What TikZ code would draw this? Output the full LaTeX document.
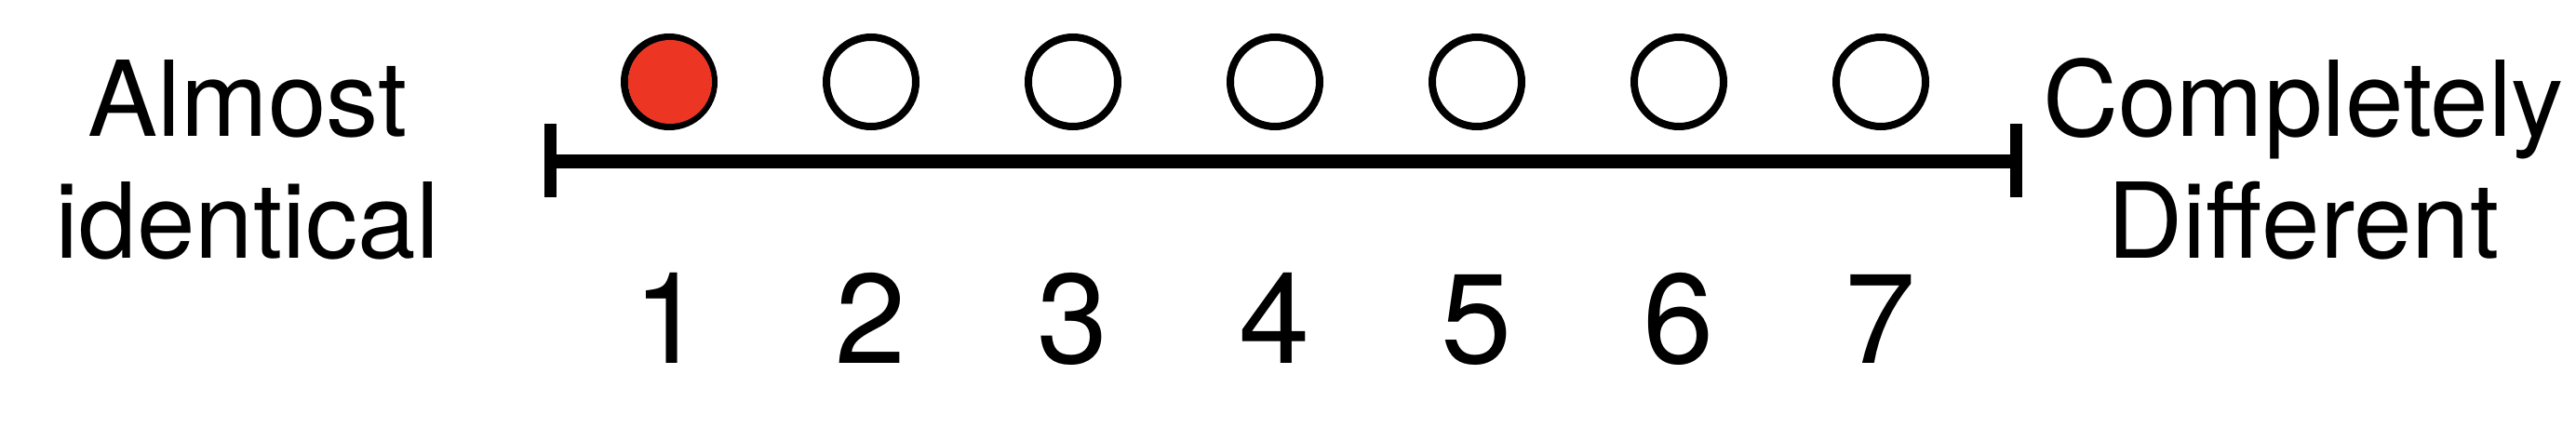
\documentclass[tikz,border=0pt]{standalone}
\usepackage{fontspec}
\setmainfont{TeX Gyre Heros}
\usepackage{tikz}
\definecolor{markred}{RGB}{237,53,36}

\begin{document}
\begin{tikzpicture}[
    dot/.style={circle, draw, line width=0.08cm, minimum size=0.96cm, inner sep=0pt},
    endlabel/.style={align=center, anchor=base, inner sep=0pt, font=\fontsize{32}{37}\selectfont},
    numlabel/.style={anchor=base, inner sep=0pt, font=\fontsize{39}{39}\selectfont}]
    \useasboundingbox (0,0) rectangle (27.68,4.73);
    \coordinate (lo) at (5.915,3);
    \coordinate (hi) at (21.66,3);
    \draw[line width=0.15cm] (lo) -- (hi);
    \draw[line width=0.13cm] ([yshift=0.4cm]lo) -- ([yshift=-0.39cm]lo);
    \draw[line width=0.13cm] ([yshift=0.4cm]hi) -- ([yshift=-0.39cm]hi);
    \foreach \i in {1,...,7} {
        \node[dot] (c\i) at ({7.19+2.17*(\i-1)},3.85) {};
        \node[numlabel] (n\i) at ({7.19+2.17*(\i-1)},0.83) {\i};
    }
%    \fill[markred] (c1) circle(0.48cm);
    \fill[markred] ([xshift=0.01cm]c1.center) circle(0.45cm);
    \node[endlabel] (almost) at (2.66,1.96) {Almost\\identical};
    \node[endlabel] (differ) at (24.75,1.96) {Completely\\Different};
\end{tikzpicture}
\end{document}
